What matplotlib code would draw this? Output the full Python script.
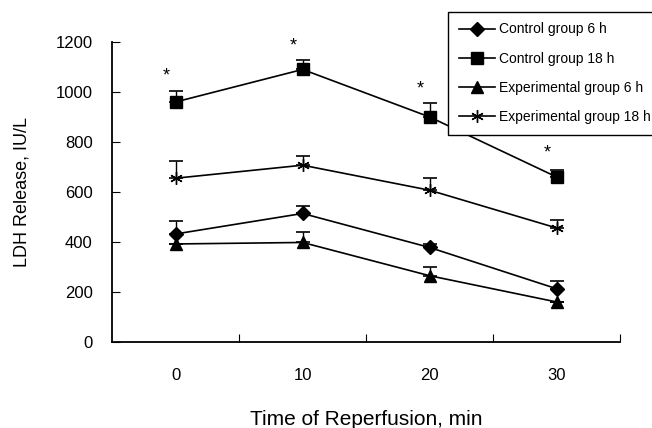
import matplotlib
matplotlib.use("Agg")
import matplotlib.pyplot as plt
import numpy as np

plt.rcParams["font.family"] = ["Liberation Sans", "DejaVu Sans"]

# Data.
time_labels = ["0", "10", "20", "30"]
control_6h = [432, 514, 378, 213]
control_6h_err = [50, 30, 12, 32]
control_18h = [960, 1090, 900, 660]
control_18h_err = [42, 38, 55, 28]
exp_6h = [392, 398, 265, 160]
exp_6h_err = [0, 42, 36, 0]
exp_18h = [655, 707, 607, 456]
exp_18h_err = [70, 36, 50, 32]
star_heights = [1065, 1185, 1012, 755]

fig = plt.figure(figsize=(6.52, 4.28), dpi=100)
ax = fig.add_axes([0.172, 0.201, 0.779, 0.701])

x = np.arange(len(time_labels))

series = [
    (control_6h, control_6h_err, "D", 7, "Control group 6 h"),
    (control_18h, control_18h_err, "s", 8, "Control group 18 h"),
    (exp_6h, exp_6h_err, "^", 8, "Experimental group 6 h"),
    (exp_18h, exp_18h_err, (6, 2, 0), 9, "Experimental group 18 h"),
]

handles = []
for vals, errs, marker, size, label in series:
    ax.errorbar(
        x, vals,
        yerr=[np.zeros(len(errs)), errs],
        fmt="none",
        ecolor="black",
        capsize=5,
        elinewidth=1.0,
        capthick=1.2,
    )
    (line,) = ax.plot(
        x, vals,
        color="black",
        linewidth=1.2,
        marker=marker,
        markersize=size,
        markeredgewidth=1.0,
        label=label,
    )
    handles.append(line)

# Significance markers above the control 18 h series.
for xi, h in zip(x, star_heights):
    ax.text(xi - 0.07, h, "*", ha="center", va="center", fontsize=13)

ax.set_xlim(-0.5, 3.5)
ax.set_ylim(0, 1200)
ax.set_yticks(np.arange(0, 1201, 200))
ax.set_xticks([0.5, 1.5, 2.5, 3.5])
ax.set_xticklabels([])
ax.set_xticks(x, minor=True)
ax.set_xticklabels(time_labels, minor=True)
ax.tick_params(axis="x", which="major", direction="in", length=6)
ax.tick_params(axis="x", which="minor", length=0, pad=19, labelsize=12)
ax.tick_params(axis="y", direction="in", length=6, labelsize=12, pad=14)

for side in ["top", "right"]:
    ax.spines[side].set_visible(False)
for side in ["left", "bottom"]:
    ax.spines[side].set_linewidth(1.3)

ax.set_ylabel("LDH Release, IU/L", fontsize=13, labelpad=18)
ax.set_xlabel("Time of Reperfusion, min", fontsize=15, labelpad=19)

leg = ax.legend(
    handles=handles,
    loc="upper right",
    bbox_to_anchor=(1.014, 0.972),
    bbox_transform=fig.transFigure,
    fontsize=10,
    frameon=True,
    framealpha=1,
    fancybox=False,
    edgecolor="black",
    handlelength=2.6,
    handletextpad=0.3,
    labelspacing=1.1,
    borderpad=0.75,
    borderaxespad=0,
)
leg.get_frame().set_linewidth(1.0)
leg.set_zorder(5)

fig.savefig("out.png", dpi=100)
